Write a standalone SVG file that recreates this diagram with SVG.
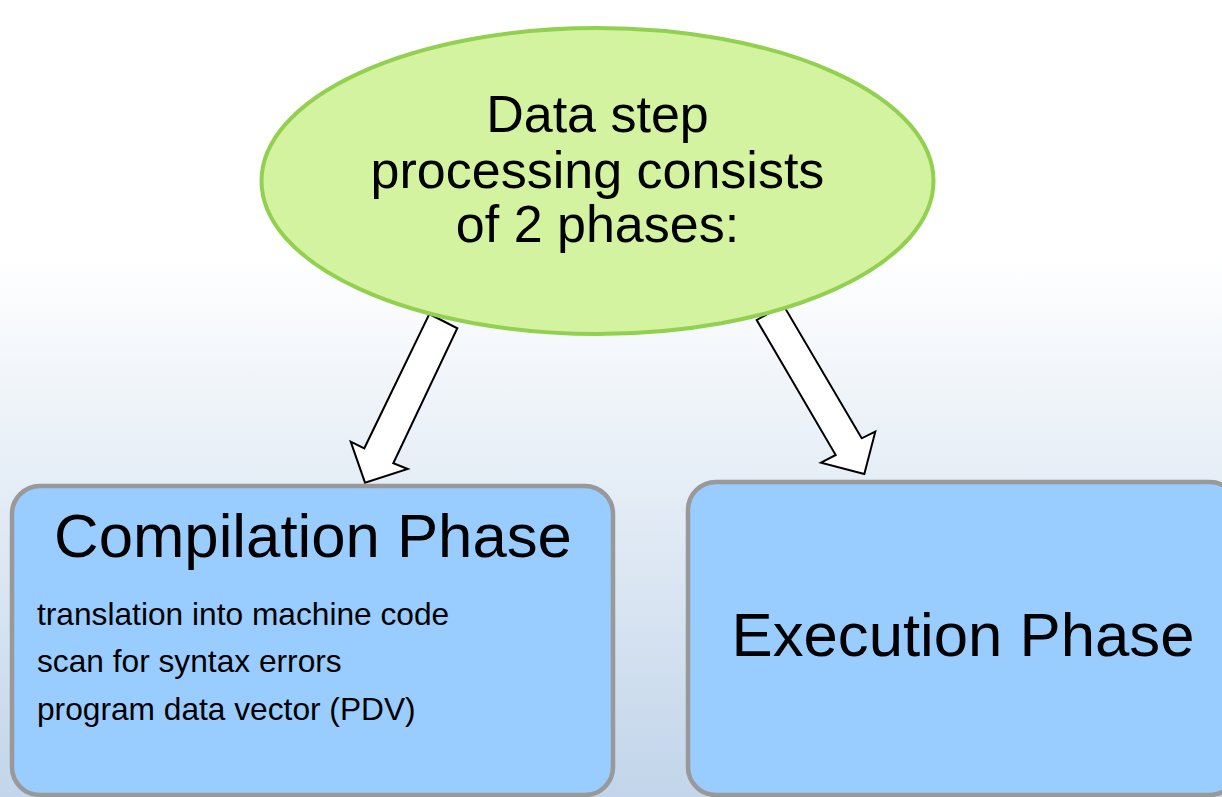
<svg xmlns="http://www.w3.org/2000/svg" width="1222" height="797" viewBox="0 0 1222 797">
  <defs>
    <linearGradient id="bg" x1="0" y1="0" x2="0" y2="797" gradientUnits="userSpaceOnUse">
      <stop offset="0" stop-color="#ffffff"/>
      <stop offset="0.32" stop-color="#ffffff"/>
      <stop offset="1" stop-color="#c2d5ea"/>
    </linearGradient>
  </defs>
  <style>
    text { font-family: "Liberation Sans", Arial, sans-serif; fill: #000000; }
    .oval { fill: #d3f3a0; stroke: #92d050; stroke-width: 4; }
    .box { fill: #99ccff; stroke: #999999; stroke-width: 4.5; }
    .arrow { fill: #ffffff; stroke: #000000; stroke-width: 2; stroke-linejoin: miter; }
    .big { font-size: 52px; text-anchor: middle; }
    .title { font-size: 61.7px; text-anchor: middle; }
    .item { font-size: 31.7px; }
  </style>
  <rect x="0" y="0" width="1222" height="797" fill="url(#bg)"/>

  <g id="connectors">
    <polygon class="arrow" points="429.3,314 457.3,328.3 393.3,463.3 407.7,469 365,482.7 350.7,441.7 364.3,448.3"/>
    <polygon class="arrow" points="756.7,320 783.3,305 861.7,438.3 875.3,431.7 864.3,474 821,462.7 835.7,455"/>
  </g>

  <g id="root">
    <ellipse class="oval" cx="597.5" cy="181" rx="336" ry="153"/>
    <text class="big" x="597.5" y="132">Data step</text>
    <text class="big" x="597.5" y="187.5">processing consists</text>
    <text class="big" x="597.5" y="242">of 2 phases:</text>
  </g>

  <g id="compilation">
    <rect class="box" x="12" y="486" width="601" height="309" rx="28" ry="28"/>
    <text class="title" x="313" y="557">Compilation Phase</text>
    <text class="item" x="37" y="625">translation into machine code</text>
    <text class="item" x="37" y="672">scan for syntax errors</text>
    <text class="item" x="37" y="720">program data vector (PDV)</text>
  </g>

  <g id="execution">
    <rect class="box" x="688" y="482" width="550" height="313" rx="28" ry="28"/>
    <text class="title" x="963" y="656">Execution Phase</text>
  </g>
</svg>
